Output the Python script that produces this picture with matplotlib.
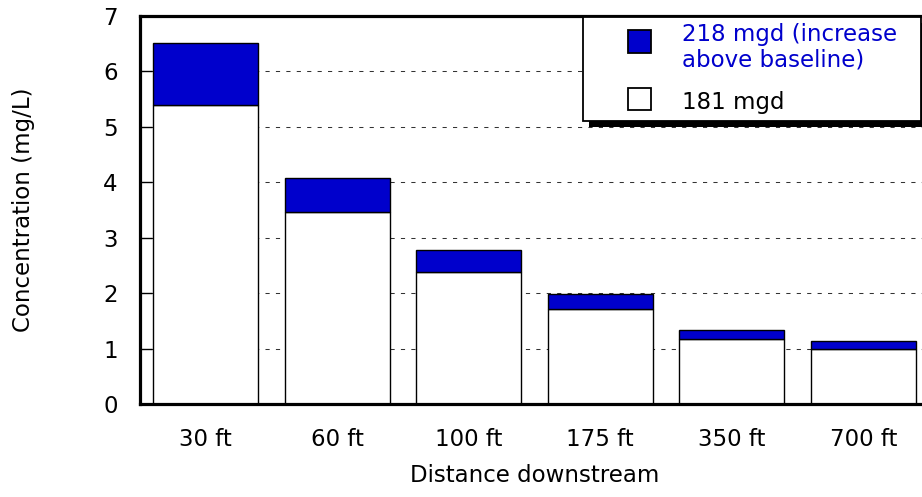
import matplotlib
matplotlib.use("Agg")
import matplotlib.pyplot as plt
from matplotlib.patches import Rectangle

categories = ["30 ft", "60 ft", "100 ft", "175 ft", "350 ft", "700 ft"]
baseline_181 = [5.39, 3.46, 2.38, 1.71, 1.17, 1.00]
total_218 = [6.51, 4.07, 2.77, 1.98, 1.33, 1.14]
increase_218 = [t - b for t, b in zip(total_218, baseline_181)]
yticks = [0, 1, 2, 3, 4, 5, 6, 7]

BLUE = "#0000CC"
FS = 16.5
plt.rcParams["font.family"] = ["DejaVu Sans"]

W, H = 922, 497
fig = plt.figure(figsize=(W / 100, H / 100), dpi=100)
ax = fig.add_axes([140 / W, 1 - 404 / H, 789 / W, 388 / H])

x = list(range(len(categories)))
ax.bar(x, baseline_181, width=0.8, color="white", edgecolor="black", linewidth=1.0, zorder=3)
ax.bar(x, increase_218, bottom=baseline_181, width=0.8, color=BLUE, edgecolor="black",
       linewidth=1.0, zorder=3)

ax.set_xlim(-0.5, 5.5)
ax.set_ylim(0, 7)
ax.set_yticks(yticks)
ax.set_xticks(x)
ax.set_xticklabels(categories)

for v in yticks[1:-1]:
    ax.axhline(v, color="#333333", linewidth=0.75, linestyle=(0, (4, 6)), zorder=1)

for side in ["left", "bottom", "top"]:
    ax.spines[side].set_linewidth(2.3)
    ax.spines[side].set_color("black")
    ax.spines[side].set_zorder(5)
ax.spines["right"].set_visible(False)

ax.tick_params(axis="y", direction="in", length=8.5, width=1, pad=16, labelsize=FS)
ax.tick_params(axis="x", length=0, pad=17, labelsize=FS)

ax.set_ylabel("Concentration (mg/L)", fontsize=FS)
ax.yaxis.set_label_coords(-0.133, 0.5)
ax.set_xlabel("Distance downstream", fontsize=FS)
ax.xaxis.set_label_coords(0.5, -0.155)

# Legend (drawn manually to match the reference's layout)
def fx(px):
    return px / W

def fy(py):
    return 1 - py / H

shadow = Rectangle((fx(589), fy(127)), fx(340), (121 - 17) / H, transform=fig.transFigure,
                   facecolor="black", edgecolor="none", zorder=9)
box = Rectangle((fx(583), fy(121)), fx(337.5), (121 - 17) / H, transform=fig.transFigure,
                facecolor="white", edgecolor="black", linewidth=1.3, zorder=10)
fig.patches.extend([shadow, box])

h1 = Rectangle((fx(628), fy(53)), fx(23), 23 / H, transform=fig.transFigure,
               facecolor=BLUE, edgecolor="black", linewidth=1.3, zorder=11)
h2 = Rectangle((fx(628), fy(110)), fx(23), 22 / H, transform=fig.transFigure,
               facecolor="white", edgecolor="black", linewidth=1.3, zorder=11)
fig.patches.extend([h1, h2])

fig.text(fx(682), fy(43.5), "218 mgd (increase\nabove baseline)", color=BLUE, fontsize=FS,
         ha="left", va="center_baseline", linespacing=1.12, zorder=12)
fig.text(fx(682), fy(100), "181 mgd", color="black", fontsize=FS, ha="left",
         va="center_baseline", zorder=12)

fig.savefig("out.png", dpi=100)
